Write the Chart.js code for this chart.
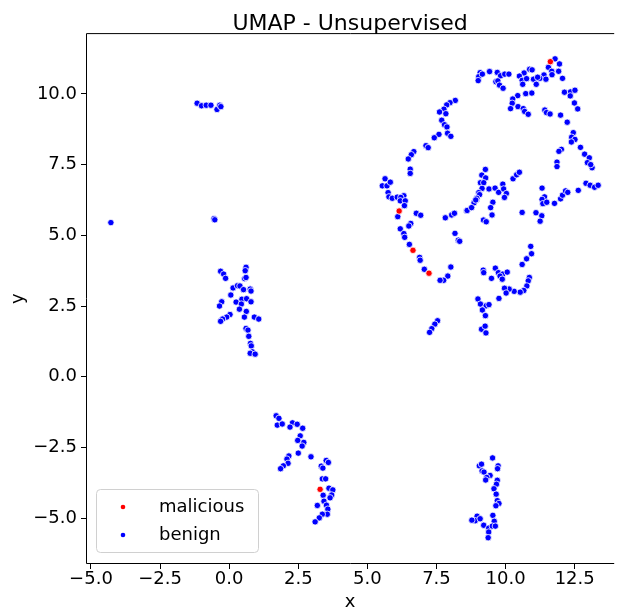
<!DOCTYPE html>
<html>
<head>
<meta charset="utf-8">
<script src="https://cdn.jsdelivr.net/npm/chart.js@4/dist/chart.umd.min.js"></script>
<style>
  body { margin: 0; background: #fff; }
  #wrap { width: 619px; height: 609px; }
</style>
</head>
<body>
<div id="wrap"><canvas id="myChart" width="619" height="609"></canvas></div>
<script>
// tick labels
const xTicks = [-5, -2.5, 0, 2.5, 5, 7.5, 10, 12.5];
const yTicks = [-5, -2.5, 0, 2.5, 5, 7.5, 10];

// points, [x, y]
const malicious = [
  [11.62, 11.14], [6.15, 5.86], [6.65, 4.47], [7.23, 3.66], [3.29, -3.98]
];

const benign = [
  // top left group
  [-1.16, 9.67], [-1.0, 9.58], [-0.83, 9.6], [-0.66, 9.6], [-0.44, 9.45], [-0.34, 9.6], [-0.3, 9.55],
  // lone points
  [-4.28, 5.45], [-0.55, 5.59], [-0.52, 5.55],
  // group around (0.5, 2.5)
  [-0.31, 3.73], [-0.2, 3.63], [-0.13, 3.48], [0.61, 3.87], [0.58, 3.75], [0.56, 3.47], [0.61, 3.51],
  [0.14, 3.14], [0.3, 3.22], [0.39, 3.21], [0.52, 3.08], [0.76, 3.1], [0.79, 3.03], [0.06, 2.89],
  [0.46, 2.74], [0.63, 2.76], [0.25, 2.64], [0.44, 2.57], [0.79, 2.65], [-0.27, 2.65], [-0.35, 2.5],
  [0.37, 2.39], [0.62, 2.31], [0.55, 2.11], [0.91, 2.11], [1.07, 2.04], [0.03, 2.2], [-0.09, 2.11],
  [-0.24, 2.04], [-0.31, 1.96], [0.61, 1.71], [0.68, 1.65], [0.71, 1.43], [0.77, 1.18], [0.8, 1.09],
  [0.84, 0.88], [0.76, 0.83], [0.94, 0.8],
  // bottom group near x=2.5
  [1.7, -1.38], [1.8, -1.47], [1.74, -1.71], [1.92, -1.67], [2.29, -1.63], [2.2, -1.78], [2.46, -1.68],
  [2.66, -1.82], [2.57, -2.09], [2.48, -2.25], [2.7, -2.32], [2.64, -2.45], [2.5, -2.7], [2.16, -2.8],
  [2.09, -2.91], [2.13, -3.06], [1.96, -3.15], [1.86, -3.25], [2.96, -2.83], [3.51, -2.96], [3.59, -3.03],
  [3.33, -3.16], [3.39, -3.23], [3.37, -3.61], [3.49, -3.61], [3.61, -3.94], [3.75, -4.0], [3.71, -4.18],
  [3.4, -4.19], [3.65, -4.28], [3.43, -4.4], [3.19, -4.55], [3.52, -4.54], [3.57, -4.68], [3.55, -4.86],
  [3.37, -4.86], [3.26, -4.99], [3.11, -5.13],
  // bottom group near x=9.5
  [9.53, -2.87], [9.05, -3.15], [9.13, -3.09], [9.73, -3.15], [9.71, -3.25], [9.15, -3.33], [9.22, -3.37],
  [9.44, -3.49], [9.32, -3.56], [9.28, -3.65], [9.7, -3.66], [9.67, -3.8], [9.58, -3.96], [9.66, -4.15],
  [9.7, -4.38], [9.76, -4.48], [9.65, -4.56], [8.97, -4.93], [8.9, -5.09], [9.08, -5.02], [9.54, -4.9],
  [9.59, -5.11], [9.21, -5.25], [9.39, -5.35], [9.52, -5.28], [9.63, -5.28], [9.39, -5.49], [9.37, -5.69],
  [8.78, -5.07],
  // left arc 5.5 - 8.5
  [8.18, 9.77], [7.99, 9.69], [7.87, 9.61], [7.77, 9.46], [7.61, 9.36], [7.84, 9.3], [7.69, 9.07],
  [7.79, 8.91], [7.88, 8.83], [7.9, 8.61], [8.02, 8.5], [7.59, 8.57], [7.42, 8.45], [7.12, 8.17],
  [7.2, 8.1], [6.68, 7.96], [6.59, 7.85], [6.48, 7.7], [6.55, 7.34], [6.55, 7.19], [5.64, 7.0],
  [5.54, 6.75], [5.71, 6.75], [5.83, 6.88], [5.75, 6.51], [5.78, 6.36], [5.9, 6.31], [6.08, 6.35],
  [6.32, 6.4], [6.21, 6.34], [6.19, 6.22], [6.37, 6.22], [6.34, 6.05], [6.1, 5.66], [6.77, 5.78],
  [6.93, 5.71], [6.57, 5.42], [6.5, 5.33], [6.19, 5.23], [6.32, 5.06], [6.35, 4.93], [6.52, 4.68],
  [6.89, 4.22], [6.91, 4.12], [7.06, 3.8], [8.02, 3.88], [7.91, 3.56], [7.76, 3.41], [7.63, 3.41],
  [7.82, 5.62], [8.05, 5.72], [8.15, 5.78], [8.59, 5.87], [8.78, 5.98], [8.86, 6.15], [8.96, 6.28],
  [9.04, 6.48], [8.17, 5.07], [8.29, 4.83], [8.34, 4.79], [7.54, 1.98], [7.44, 1.86], [7.33, 1.7],
  [7.25, 1.57],
  // middle group 9 - 10.5
  [9.27, 7.33], [9.14, 7.13], [9.28, 7.03], [9.09, 6.86], [9.21, 6.86], [9.15, 6.66], [9.4, 6.64],
  [9.62, 6.67], [9.03, 6.51], [9.06, 6.44], [8.96, 6.31], [8.92, 6.25], [8.61, 5.88], [8.77, 5.98],
  [9.75, 6.52], [9.9, 6.81], [9.93, 6.64], [10.03, 6.48], [9.96, 6.34], [10.27, 7.0], [10.4, 7.14],
  [10.5, 7.23], [9.54, 6.17], [9.46, 5.98], [9.51, 5.72], [9.2, 5.54], [9.3, 5.48], [10.6, 5.81],
  // group 9 - 11, y 1.5 - 4.6
  [9.19, 3.77], [9.21, 3.68], [9.63, 3.84], [9.74, 3.68], [9.9, 3.63], [10.06, 3.7], [9.8, 3.56],
  [9.88, 3.45], [9.49, 3.48], [10.86, 3.51], [10.82, 3.39], [10.77, 3.21], [10.66, 3.05], [10.53, 2.99],
  [10.31, 3.02], [10.13, 3.1], [9.96, 3.13], [10.02, 2.96], [9.76, 2.77], [9.0, 2.75], [9.09, 2.57],
  [9.3, 2.51], [9.4, 2.55], [9.16, 2.36], [9.27, 2.16], [9.13, 1.68], [9.26, 1.79], [9.29, 1.55],
  [10.91, 4.61], [10.94, 4.35], [10.76, 4.17], [10.6, 3.97],
  // top group
  [9.08, 10.75], [9.03, 10.61], [9.01, 10.47], [9.16, 10.7], [9.42, 10.79], [9.65, 10.43], [9.7, 10.76],
  [9.82, 10.64], [9.97, 10.7], [10.12, 10.7], [9.72, 10.46], [9.78, 10.31], [9.91, 10.2], [10.44, 9.94],
  [10.26, 9.82], [10.73, 10.01], [10.95, 10.03], [10.24, 9.67], [10.18, 9.48], [10.45, 9.55],
  [10.64, 9.48], [10.69, 9.38], [10.82, 9.28], [11.79, 11.24], [11.95, 11.06], [11.55, 10.94],
  [11.67, 10.8], [11.68, 10.68], [11.92, 10.8], [12.06, 10.55], [11.39, 10.67], [11.24, 10.55],
  [11.46, 10.52], [11.01, 10.52], [11.11, 10.34], [11.16, 10.59], [10.87, 10.87], [10.96, 10.85],
  [10.67, 10.74], [10.5, 10.63], [10.6, 10.48], [10.76, 10.54], [10.62, 10.34],
  // right arc
  [12.13, 10.06], [12.35, 10.07], [12.34, 9.93], [12.51, 10.13], [12.49, 9.68], [12.61, 9.47],
  [11.42, 9.43], [11.48, 9.34], [11.61, 9.29], [11.99, 9.25], [12.23, 9.0], [12.45, 8.63], [12.39, 8.47],
  [12.51, 8.39], [12.38, 8.3], [12.71, 8.11], [12.86, 7.87], [13.03, 7.74], [12.96, 7.57], [13.13, 7.39],
  [13.08, 7.5], [12.02, 8.04], [11.93, 7.97], [11.86, 7.59], [11.86, 7.43], [11.32, 6.67], [11.41, 6.36],
  [11.32, 6.27], [11.35, 6.12], [11.49, 6.17], [11.77, 6.13], [11.99, 6.29], [12.06, 6.42], [12.17, 6.57],
  [12.25, 6.52], [12.63, 6.59], [12.91, 6.84], [13.06, 6.77], [13.22, 6.7], [13.35, 6.77], [11.1, 5.8],
  [11.31, 5.69], [11.25, 5.5]
];

const FONT = "'DejaVu Sans', sans-serif";
const toPts = (arr) => arr.map((p) => ({ x: p[0], y: p[1] }));
const fmt = (v) => v.toFixed(1).replace("-", "\u2212");

// frame on top, left and bottom (right spine is outside the picture)
const framePlugin = {
  id: "frame",
  afterDraw(chart) {
    const { ctx, chartArea: a } = chart;
    ctx.save();
    ctx.strokeStyle = "#000";
    ctx.lineWidth = 1;
    ctx.beginPath();
    ctx.moveTo(a.right, a.top + 0.5);
    ctx.lineTo(a.left + 0.5, a.top + 0.5);
    ctx.lineTo(a.left + 0.5, a.bottom - 0.5);
    ctx.lineTo(a.right, a.bottom - 0.5);
    ctx.stroke();
    ctx.restore();
  },
};

// matplotlib style legend in the lower left corner
const legendBox = {
  id: "legendBox",
  afterDraw(chart) {
    const { ctx, chartArea: a } = chart;
    const x0 = a.left + 10, y0 = a.bottom - 75, w = 162, h = 63;
    ctx.save();
    ctx.fillStyle = "rgba(255,255,255,0.8)";
    ctx.strokeStyle = "#d0d0d0";
    ctx.lineWidth = 1;
    ctx.beginPath();
    ctx.roundRect(x0 + 0.5, y0 + 0.5, w, h, 4);
    ctx.fill();
    ctx.stroke();
    ctx.font = "18px " + FONT;
    ctx.textBaseline = "middle";
    chart.data.datasets.forEach((ds, i) => {
      const cy = y0 + 18 + i * 28;
      ctx.fillStyle = ds.backgroundColor;
      ctx.beginPath();
      ctx.arc(x0 + 27, cy, 2.3, 0, Math.PI * 2);
      ctx.fill();
      ctx.fillStyle = "#000";
      ctx.fillText(ds.label, x0 + 63, cy);
    });
    ctx.restore();
  },
};

const config = {
  type: "scatter",
  data: {
    datasets: [
      {
        label: "malicious",
        data: toPts(malicious),
        backgroundColor: "#ff0000",
        borderColor: "#ffffff",
        borderWidth: 0.8,
        pointRadius: 3.2,
      },
      {
        label: "benign",
        data: toPts(benign),
        backgroundColor: "#0000ff",
        borderColor: "#ffffff",
        borderWidth: 0.8,
        pointRadius: 3.2,
      },
    ],
  },
  options: {
    responsive: false,
    animation: false,
    devicePixelRatio: 1,
    layout: { padding: 0 },
    plugins: {
      legend: { display: false },
      tooltip: { enabled: false },
      title: {
        display: true,
        text: "UMAP - Unsupervised",
        color: "#000",
        fullSize: false,
        font: { family: FONT, size: 22, weight: "normal", lineHeight: 0.8 },
        padding: { top: 15.5, bottom: 0 },
      },
    },
    scales: {
      x: {
        type: "linear",
        min: -5.18,
        max: 13.93,
        afterFit: (s) => { s.height = 45; },
        afterBuildTicks: (s) => { s.ticks = xTicks.map((v) => ({ value: v })); },
        grid: { drawOnChartArea: false, drawTicks: true, tickLength: 5, color: "#000" },
        border: { display: false },
        ticks: { color: "#000", padding: 0, maxRotation: 0, font: { family: FONT, size: 18 }, callback: fmt },
        title: { display: true, text: "x", color: "#000", padding: { top: 0, bottom: 0 },
                 font: { family: FONT, size: 18, lineHeight: 0.7 } },
      },
      y: {
        type: "linear",
        min: -6.62,
        max: 12.15,
        afterFit: (s) => { s.width = 86; },
        afterBuildTicks: (s) => { s.ticks = yTicks.map((v) => ({ value: v })); },
        grid: { drawOnChartArea: false, drawTicks: true, tickLength: 5, color: "#000" },
        border: { display: false },
        ticks: { color: "#000", padding: 4, font: { family: FONT, size: 18 }, callback: fmt },
        title: { display: true, text: "y", color: "#000", padding: { top: 8, bottom: 0 },
                 font: { family: FONT, size: 18 } },
      },
    },
  },
  plugins: [framePlugin, legendBox],
};

const myChart = new Chart(document.getElementById("myChart"), config);
</script>
</body>
</html>
